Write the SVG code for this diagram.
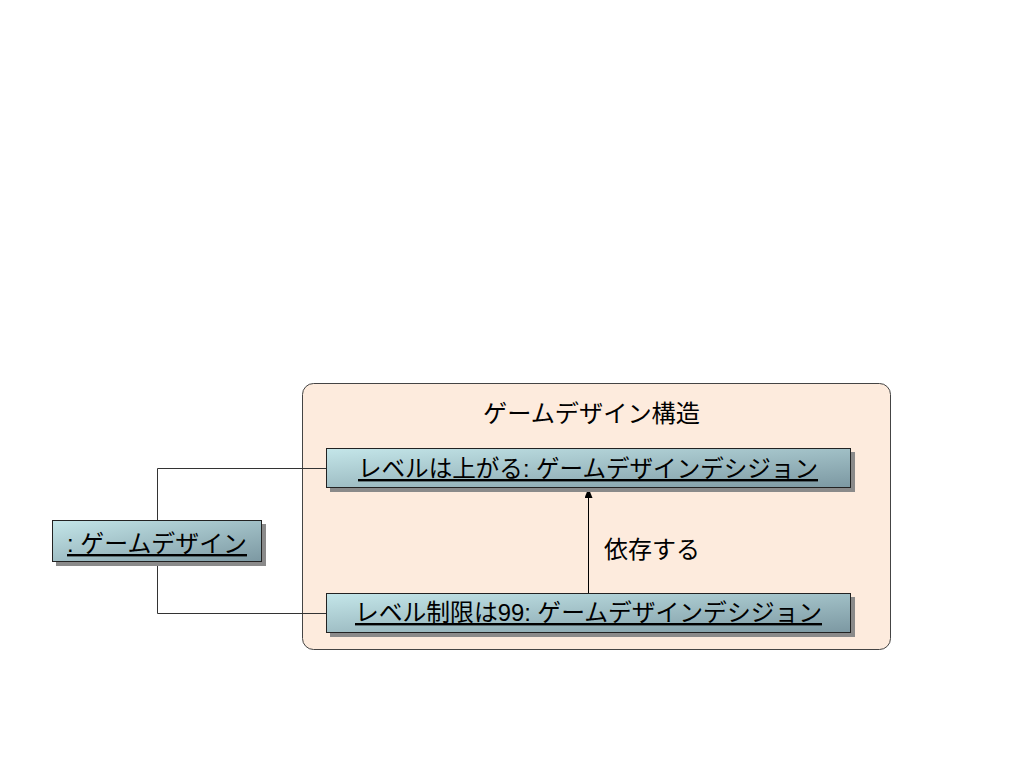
<svg xmlns="http://www.w3.org/2000/svg" width="1024" height="768" viewBox="0 0 1024 768">
<defs>
<linearGradient id="g" x1="0" y1="0" x2="1" y2="1">
<stop offset="0" stop-color="#C4E6E9"/>
<stop offset="1" stop-color="#7C98A2"/>
</linearGradient>
<marker id="arr" markerWidth="10" markerHeight="8" refX="10" refY="4" orient="auto" markerUnits="userSpaceOnUse" viewBox="0 0 10 8">
<path d="M0,0 L10,4 L0,8 Z" fill="#000"/>
</marker>
<style>
.t{font-family:"Liberation Sans","Noto Sans CJK JP",sans-serif;fill:#000}
.nb{fill:url(#g);stroke:#222;stroke-width:1}
.sh{fill:#8a8a8a}
.c{fill:none;stroke:#333;stroke-width:1}
</style>
</defs>
<rect width="1024" height="768" fill="#fff"/>
<g id="container">
<rect x="302.5" y="383.5" width="588" height="266" rx="11" fill="#FDEBDD" stroke="#444" stroke-width="1"/>
<text class="t" x="483" y="422" font-size="24" textLength="217" lengthAdjust="spacingAndGlyphs">ゲームデザイン構造</text>
</g>
<g id="connectors">
<polyline class="c" points="157.5,520 157.5,468.5 326,468.5"/>
<polyline class="c" points="157.5,562 157.5,613.5 326,613.5"/>
<line x1="588.5" y1="593" x2="588.5" y2="488" stroke="#000" stroke-width="1" marker-end="url(#arr)"/>
<text class="t" x="604" y="558" font-size="24" textLength="96" lengthAdjust="spacingAndGlyphs">依存する</text>
</g>
<g id="node-gamedesign">
<rect class="sh" x="56" y="524" width="210" height="42"/>
<rect class="nb" x="52.5" y="520.5" width="209" height="41"/>
<text class="t" x="67" y="552" font-size="24" textLength="180" lengthAdjust="spacingAndGlyphs" text-decoration="underline">: ゲームデザイン</text>
</g>
<g id="node-level-up">
<rect class="sh" x="330" y="452" width="525" height="40"/>
<rect class="nb" x="326.5" y="448.5" width="524" height="39"/>
<text class="t" x="358" y="477" font-size="24" textLength="460" lengthAdjust="spacingAndGlyphs" text-decoration="underline">レベルは上がる: ゲームデザインデシジョン</text>
</g>
<g id="node-level-limit">
<rect class="sh" x="330" y="597" width="525" height="40"/>
<rect class="nb" x="326.5" y="593.5" width="524" height="39"/>
<text class="t" x="355" y="621" font-size="24" textLength="467" lengthAdjust="spacingAndGlyphs" text-decoration="underline">レベル制限は99: ゲームデザインデシジョン</text>
</g>
</svg>
